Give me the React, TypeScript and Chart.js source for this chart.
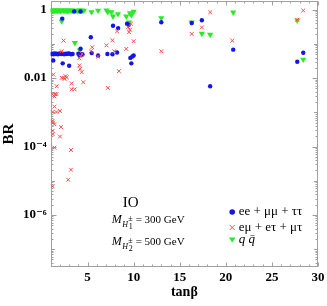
import React, { useEffect, useRef } from 'react';
import { Chart, registerables } from 'chart.js';
Chart.register(...registerables);

const xMin = 1;
const xMax = 30;
const yMin = 3.3e-8;
const yMax = 1.8;
const xTickValues = [5, 10, 15, 20, 25, 30];
const yTickValues = [1e-6, 1e-4, 0.01, 1];
const yTickLabels = ['10⁻⁶', '10⁻⁴', '0.01', '1'];

const seriesLabels = ['ee + μμ + ττ', 'eμ + eτ + μτ', 'q q̄'];
const seriesColors = ['rgb(20,20,235)', 'rgb(255,75,75)', 'rgb(40,235,40)'];

// ee + μμ + ττ
const diagX = [
  1.08, 1.2, 1.3, 1.42, 1.55, 1.65, 1.78, 1.9, 2.02, 2.15, 2.3, 2.45, 2.6, 2.75, 2.9, 3.05, 3.2, 3.38,
  4.0, 4.15, 4.3, 4.45,
  1.28, 2.25, 2.3, 3.0, 3.55, 4.24, 4.24, 5.35, 5.45, 6.14, 7.15, 7.7, 7.76, 8.32, 8.2, 9.28, 9.45,
  9.64, 9.86, 9.75, 10.0, 13.0, 16.3, 17.4, 18.3, 20.8, 27.75, 28.4,
];
const diagY = [
  0.051, 0.052, 0.05, 0.053, 0.051, 0.052, 0.05, 0.052, 0.053, 0.051, 0.052, 0.05, 0.052, 0.051, 0.053, 0.052, 0.05, 0.051,
  0.052, 0.047, 0.05, 0.049,
  0.033, 0.55, 0.027, 0.023, 0.89, 0.89, 0.072, 0.156, 0.054, 0.046, 0.051, 0.05, 0.34, 0.29, 0.056, 0.39, 0.36,
  0.039, 0.043, 0.027, 0.046, 0.43, 0.41, 0.49, 0.0058, 0.068, 0.03, 0.055,
];

// eμ + eτ + μτ
const offX = [
  1.28, 1.2, 1.48, 1.4, 1.63, 1.65, 1.4, 1.2, 1.63, 2.0, 1.2, 1.4, 1.25, 1.2, 1.22, 2.12, 2.0, 1.4, 3.2, 3.2, 2.9, 1.2,
  2.19, 2.4, 2.2, 2.4, 2.6, 2.5, 2.75, 3.28, 3.28, 3.6, 4.1, 4.2, 4.36, 4.54, 4.24, 4.4, 4.1,
  5.35, 5.5, 6.14, 7.05, 7.2, 7.7, 7.9, 8.2, 8.4, 9.2, 9.4, 9.5, 9.6, 9.7, 10.0,
  13.0, 16.3, 17.4, 18.3, 20.7, 27.75, 28.4,
];
const offY = [
  0.0127, 0.0034, 0.0034, 0.0029, 0.0034, 0.0058, 0.00147, 0.00102, 0.00102, 0.0011, 0.00056, 0.00045, 0.0005, 0.000285, 0.00023, 0.00037, 0.000196, 9.3e-5, 7.9e-5, 2.1e-5, 1.07e-5, 6.9e-6,
  0.061, 0.125, 0.0102, 0.0102, 0.0114, 0.0095, 0.0105, 0.007, 0.0047, 0.0047, 0.0234, 0.0187, 0.0149, 0.0076, 0.0436, 0.051, 0.038,
  0.061, 0.08, 0.043, 0.091, 0.0052, 0.128, 0.061, 0.233, 0.016, 0.0716, 0.31, 0.22, 0.26, 0.39, 0.12,
  0.061, 0.196, 0.305, 0.84, 0.125, 0.51, 0.95,
];

// q qbar
const qqX = [
  1.05, 1.15, 1.25, 1.35, 1.45, 1.55, 1.65, 1.75, 1.85, 1.95, 2.05, 2.15, 2.35, 2.45, 2.55, 2.65, 2.75, 2.85, 2.95, 3.1, 3.25, 3.4,
  3.8, 3.95, 4.1, 4.25, 4.4, 4.6,
  2.2, 3.62, 4.16, 5.43, 6.14, 7.05, 7.2, 7.6, 7.76, 8.3, 9.2, 9.5, 9.6, 9.75, 10.0,
  13.0, 16.3, 17.4, 18.3, 20.8, 27.75, 28.4,
];
const qqY = [
  0.95, 0.94, 0.96, 0.95, 0.93, 0.95, 0.96, 0.94, 0.95, 0.95, 0.93, 0.96, 0.95, 0.94, 0.95, 0.96, 0.93, 0.95, 0.94, 0.95, 0.96, 0.94,
  0.95, 0.93, 0.96, 0.95, 0.94, 0.95,
  0.46, 0.107, 0.065, 0.857, 0.95, 0.97, 0.87, 0.86, 0.64, 0.75, 0.64, 0.43, 0.8, 0.7, 0.88,
  0.573, 0.43, 0.2, 0.187, 0.84, 0.49, 0.035,
];

const SERIF = "'Liberation Serif', 'DejaVu Serif', serif";

function toPoints(xs: number[], ys: number[]) {
  return xs.map((x, i) => ({ x, y: ys[i] }));
}

function zeroPadding(s: any) {
  s.paddingTop = 0;
  s.paddingBottom = 0;
  s.paddingLeft = 0;
  s.paddingRight = 0;
}

function drawMarker(ctx: CanvasRenderingContext2D, kind: number, x: number, y: number, r: number) {
  ctx.save();
  if (kind === 0) {
    ctx.fillStyle = seriesColors[0];
    ctx.beginPath();
    ctx.arc(x, y, r, 0, Math.PI * 2);
    ctx.fill();
  } else if (kind === 1) {
    ctx.strokeStyle = seriesColors[1];
    ctx.lineWidth = 1;
    ctx.beginPath();
    ctx.moveTo(x - r, y - r);
    ctx.lineTo(x + r, y + r);
    ctx.moveTo(x + r, y - r);
    ctx.lineTo(x - r, y + r);
    ctx.stroke();
  } else {
    ctx.fillStyle = seriesColors[2];
    ctx.beginPath();
    ctx.moveTo(x - r, y - r * 0.6);
    ctx.lineTo(x + r, y - r * 0.6);
    ctx.lineTo(x, y + r * 0.9);
    ctx.closePath();
    ctx.fill();
  }
  ctx.restore();
}

function drawMassLabel(ctx: CanvasRenderingContext2D, x: number, y: number, idx: string, value: string) {
  ctx.fillStyle = '#000';
  ctx.textBaseline = 'alphabetic';
  ctx.textAlign = 'left';
  ctx.font = `italic 12px ${SERIF}`;
  ctx.fillText('M', x, y);
  let cx = x + ctx.measureText('M').width + 0.5;
  ctx.font = `italic 8px ${SERIF}`;
  ctx.fillText('H', cx, y + 4);
  cx += ctx.measureText('H').width + 0.3;
  ctx.font = `8px ${SERIF}`;
  ctx.fillText('±', cx, y - 2);
  ctx.fillText(idx, cx + 0.5, y + 6);
  cx += ctx.measureText('±').width + 3;
  ctx.font = `11px ${SERIF}`;
  ctx.fillText(`= ${value} GeV`, cx, y);
}

const framePlugin = {
  id: 'frame',
  beforeDatasetsDraw(chart: any) {
    const { ctx, chartArea: a, scales } = chart;
    const xs = scales.x;
    const ys = scales.y;
    ctx.save();
    ctx.strokeStyle = '#a0a0a0';
    ctx.lineWidth = 1;
    const L = Math.round(a.left) + 0.5;
    const R = Math.round(a.right) - 0.5;
    const T = Math.round(a.top) + 0.5;
    const B = Math.round(a.bottom) - 0.5;
    ctx.strokeRect(L, T, R - L, B - T);
    ctx.beginPath();
    for (let v = Math.ceil(xMin); v <= xMax; v++) {
      const px = Math.round(xs.getPixelForValue(v)) + 0.5;
      const len = v % 5 === 0 ? 4 : 2;
      ctx.moveTo(px, B);
      ctx.lineTo(px, B - len);
      ctx.moveTo(px, T);
      ctx.lineTo(px, T + len);
    }
    for (let e = -8; e <= 0; e++) {
      for (let m = 1; m <= 9; m++) {
        const v = m * Math.pow(10, e);
        if (v < yMin || v > yMax) continue;
        const py = Math.round(ys.getPixelForValue(v)) + 0.5;
        const len = m === 1 ? (e % 2 === 0 ? 5 : 3.5) : 2;
        ctx.moveTo(L, py);
        ctx.lineTo(L + len, py);
        ctx.moveTo(R, py);
        ctx.lineTo(R - len, py);
      }
    }
    ctx.stroke();
    ctx.restore();
  },
  afterDraw(chart: any) {
    const { ctx, chartArea: a } = chart;
    ctx.save();
    // legend
    const lx = a.left + 181.5;
    const rows = [a.top + 211, a.top + 226.5, a.top + 238.5];
    const radii = [2.8, 2.5, 3.3];
    rows.forEach((ry, i) => {
      drawMarker(ctx, i, lx, ry, radii[i]);
      ctx.fillStyle = '#000';
      ctx.textBaseline = 'middle';
      ctx.textAlign = 'left';
      ctx.font = i === 2 ? `italic 13px ${SERIF}` : `13px ${SERIF}`;
      ctx.fillText(seriesLabels[i], lx + 6.5, ry);
    });
    // annotation
    ctx.fillStyle = '#000';
    ctx.textAlign = 'center';
    ctx.textBaseline = 'alphabetic';
    ctx.font = `15px ${SERIF}`;
    ctx.fillText('IO', a.left + 80, a.top + 206);
    drawMassLabel(ctx, a.left + 61, a.top + 222, '1', '300');
    drawMassLabel(ctx, a.left + 61, a.top + 244, '2', '500');
    ctx.restore();
  },
};

export default function App() {
  const ref = useRef<HTMLCanvasElement | null>(null);
  useEffect(() => {
    document.body.style.margin = '0';
    const canvas = ref.current;
    if (!canvas) return;
    const tickFont = { family: SERIF, size: 13, weight: 'bold' as const };
    const chart = new Chart(canvas, {
      type: 'scatter',
      data: {
        datasets: [
          {
            label: seriesLabels[0],
            data: toPoints(diagX, diagY),
            pointStyle: 'circle',
            pointRadius: 2.2,
            backgroundColor: seriesColors[0],
            borderWidth: 0,
            order: 1,
          },
          {
            label: seriesLabels[1],
            data: toPoints(offX, offY),
            pointStyle: 'crossRot',
            pointRadius: 2.7,
            borderColor: seriesColors[1],
            backgroundColor: seriesColors[1],
            borderWidth: 1,
            order: 0,
          },
          {
            label: seriesLabels[2],
            data: toPoints(qqX, qqY),
            pointStyle: 'triangle',
            rotation: 180,
            pointRadius: 3.6,
            backgroundColor: seriesColors[2],
            borderWidth: 0,
            order: 2,
          },
        ],
      },
      options: {
        animation: false,
        responsive: false,
        devicePixelRatio: 1,
        layout: { autoPadding: false, padding: { top: 1, right: 9, left: 0, bottom: 0 } },
        plugins: { legend: { display: false }, tooltip: { enabled: false } },
        scales: {
          x: {
            type: 'linear',
            min: xMin,
            max: xMax,
            afterBuildTicks: (s: any) => {
              s.ticks = xTickValues.map((v) => ({ value: v }));
            },
            afterFit: (s: any) => {
              s.height = 39;
              zeroPadding(s);
            },
            ticks: { font: tickFont, color: '#000', padding: 3, maxRotation: 0, autoSkip: false },
            grid: { display: false, drawTicks: false },
            border: { display: false },
            title: {
              display: true,
              text: 'tanβ',
              color: '#000',
              font: { family: SERIF, size: 14, weight: 'bold' },
              padding: { top: 0, bottom: 5 },
            },
          },
          y: {
            type: 'logarithmic',
            min: yMin,
            max: yMax,
            afterBuildTicks: (s: any) => {
              s.ticks = yTickValues.map((v) => ({ value: v }));
            },
            afterFit: (s: any) => {
              s.width = 50.7;
              zeroPadding(s);
            },
            ticks: {
              font: tickFont,
              color: '#000',
              padding: 4,
              autoSkip: false,
              callback: (v: any) => {
                const i = yTickValues.findIndex((t) => Math.abs(Math.log10(t) - Math.log10(Number(v))) < 1e-6);
                return i >= 0 ? yTickLabels[i] : '';
              },
            },
            grid: { display: false, drawTicks: false },
            border: { display: false },
            title: {
              display: true,
              text: 'BR',
              color: '#000',
              font: { family: SERIF, size: 15, weight: 'bold' },
              padding: { top: 0, bottom: 0 },
            },
          },
        },
      },
      plugins: [framePlugin],
    });
    return () => chart.destroy();
  }, []);
  return <canvas ref={ref} width={327} height={306} style={{ display: 'block' }} />;
}
